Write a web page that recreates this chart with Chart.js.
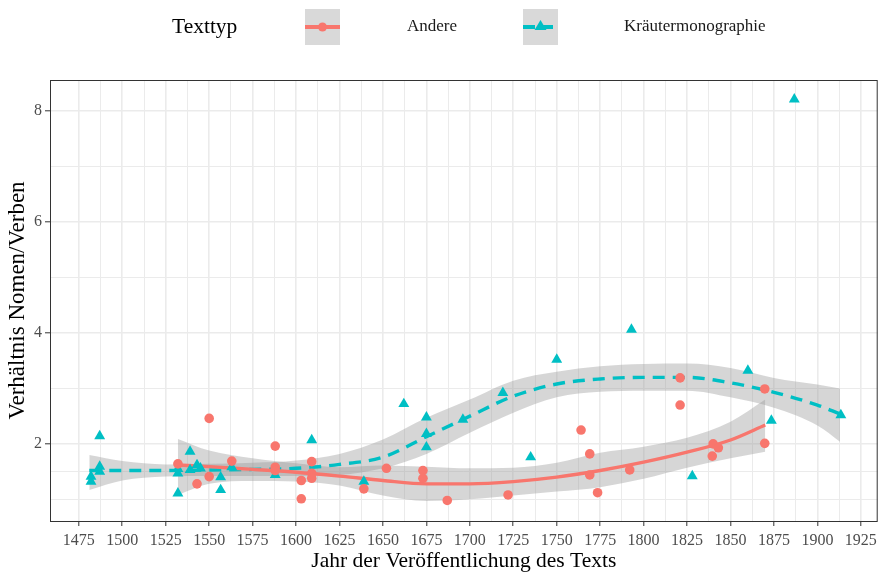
<!DOCTYPE html>
<html>
<head>
<meta charset="utf-8">
<script src="https://cdn.jsdelivr.net/npm/chart.js@4.4.1/dist/chart.umd.min.js"></script>
<style>
  html, body { margin: 0; padding: 0; background: #fff; }
  #wrap { width: 884px; height: 572px; }
</style>
</head>
<body>
<div id="wrap"><canvas id="chart" width="884" height="572"></canvas></div>
<script>
// ---------- data ----------
const seriesNames = ['Andere', 'Kräutermonographie'];

// Andere (red circles)
const andereYears = [1532, 1543, 1550, 1550, 1563, 1588, 1588, 1588, 1603, 1603, 1609, 1609, 1609,
  1639, 1652, 1673, 1673, 1687, 1722, 1764, 1769, 1769, 1773.5, 1792, 1821, 1821, 1839.5, 1840, 1843, 1869.7, 1869.7];
const andereRatio = [1.64, 1.28, 2.46, 1.41, 1.69, 1.96, 1.58, 1.52, 1.34, 1.01, 1.68, 1.47, 1.38,
  1.19, 1.56, 1.52, 1.38, 0.98, 1.08, 2.25, 1.82, 1.44, 1.12, 1.53, 3.19, 2.70, 1.78, 2.00, 1.93, 2.99, 2.01];

// Kräutermonographie (teal triangles)
const kraeuterYears = [1482, 1482, 1487, 1487, 1487, 1532, 1532, 1532, 1539, 1539, 1543, 1545, 1556.6, 1556.6,
  1563, 1588, 1609, 1639, 1662, 1675, 1675, 1675, 1696, 1719, 1735, 1750, 1793, 1828, 1860, 1873.5, 1886.7, 1913.5];
const kraeuterRatio = [1.41, 1.32, 1.59, 1.50, 2.14, 1.47, 1.11, 1.55, 1.86, 1.53, 1.62, 1.56, 1.40, 1.17,
  1.58, 1.44, 2.07, 1.32, 2.72, 2.48, 2.18, 1.94, 2.44, 2.92, 1.76, 3.52, 4.06, 1.42, 3.32, 2.42, 8.21, 2.52];

// smoothed fit + confidence band, Andere
const andereSmoothYears = [1532, 1550, 1575, 1600, 1625, 1650, 1675, 1700, 1725, 1750, 1775, 1800, 1825, 1850, 1870];
const andereFit   = [1.62, 1.59, 1.54, 1.49, 1.42, 1.34, 1.28, 1.28, 1.32, 1.40, 1.52, 1.67, 1.85, 2.07, 2.34];
const andereUpper = [2.09, 1.88, 1.74, 1.65, 1.58, 1.61, 1.59, 1.56, 1.57, 1.66, 1.84, 1.95, 2.11, 2.40, 2.80];
const andereLower = [1.08, 1.28, 1.33, 1.32, 1.25, 1.07, 0.97, 1.00, 1.07, 1.14, 1.22, 1.37, 1.57, 1.74, 1.86];

// smoothed fit + confidence band, Kräutermonographie
const kraeuterSmoothYears = [1481, 1500, 1525, 1550, 1575, 1600, 1625, 1650, 1675, 1700, 1725, 1750, 1775, 1800, 1825, 1850, 1875, 1900, 1913];
const kraeuterFit   = [1.52, 1.52, 1.52, 1.53, 1.54, 1.56, 1.63, 1.76, 2.13, 2.50, 2.86, 3.08, 3.17, 3.20, 3.20, 3.10, 2.93, 2.70, 2.54];
const kraeuterUpper = [1.80, 1.69, 1.63, 1.64, 1.66, 1.70, 1.82, 2.08, 2.47, 2.80, 3.14, 3.30, 3.40, 3.44, 3.45, 3.37, 3.19, 3.07, 3.00];
const kraeuterLower = [1.17, 1.34, 1.41, 1.42, 1.42, 1.42, 1.44, 1.56, 1.82, 2.20, 2.56, 2.84, 2.94, 2.96, 2.96, 2.84, 2.65, 2.33, 2.04];

// axis ticks
const xTicks = [1475, 1500, 1525, 1550, 1575, 1600, 1625, 1650, 1675, 1700, 1725, 1750, 1775, 1800, 1825, 1850, 1875, 1900, 1925];
const yTicks = [2, 4, 6, 8];

// ---------- styling ----------
const RED = '#F8766D';
const TEAL = '#00BFC4';
const BAND = 'rgba(153,153,153,0.4)';
const FONT = "'Liberation Serif', 'Times New Roman', serif";

const pts = (xs, ys) => xs.map((x, i) => ({ x, y: ys[i] }));

const bandSet = (xs, ys, fill) => ({
  data: pts(xs, ys),
  borderWidth: 0,
  borderColor: 'transparent',
  backgroundColor: BAND,
  pointRadius: 0,
  cubicInterpolationMode: 'monotone',
  fill,
  order: 3
});

// minor ticks sit halfway between labelled ones
const withMinor = (major) => {
  const out = [];
  major.forEach((v, i) => {
    out.push(v);
    if (i < major.length - 1) out.push((v + major[i + 1]) / 2);
  });
  return out;
};

const frameAndLegend = {
  id: 'frameAndLegend',
  afterDatasetsDraw(chart) {
    const { ctx, chartArea: a } = chart;
    ctx.save();
    ctx.strokeStyle = '#333333';
    ctx.lineWidth = 1;
    ctx.strokeRect(a.left + 0.5, a.top + 0.5, a.right - a.left - 1, a.bottom - a.top);
    ctx.restore();
  },
  afterDraw(chart) {
    const ctx = chart.ctx;
    ctx.save();
    ctx.textBaseline = 'middle';
    ctx.textAlign = 'left';
    ctx.fillStyle = '#000';
    ctx.font = `21.5px ${FONT}`;
    ctx.fillText('Texttyp', 172, 27);

    // key 1: Andere
    ctx.fillStyle = '#D9D9D9';
    ctx.fillRect(305, 9, 35, 36);
    ctx.strokeStyle = RED;
    ctx.lineWidth = 4;
    ctx.beginPath(); ctx.moveTo(305, 27); ctx.lineTo(340, 27); ctx.stroke();
    ctx.fillStyle = RED;
    ctx.beginPath(); ctx.arc(322.5, 27, 4.5, 0, Math.PI * 2); ctx.fill();

    // key 2: Kräutermonographie
    ctx.fillStyle = '#D9D9D9';
    ctx.fillRect(523, 9, 35, 36);
    ctx.strokeStyle = TEAL;
    ctx.setLineDash([12, 6]);
    ctx.beginPath(); ctx.moveTo(523, 27); ctx.lineTo(558, 27); ctx.stroke();
    ctx.setLineDash([]);
    ctx.fillStyle = TEAL;
    ctx.beginPath(); ctx.moveTo(540.5, 20); ctx.lineTo(546.5, 30); ctx.lineTo(534.5, 30); ctx.closePath(); ctx.fill();

    ctx.fillStyle = '#1a1a1a';
    ctx.font = `17px ${FONT}`;
    ctx.fillText(seriesNames[0], 407, 27);
    ctx.fillText(seriesNames[1], 624, 27);
    ctx.restore();
  }
};

new Chart(document.getElementById('chart'), {
  type: 'line',
  data: {
    datasets: [
      { label: seriesNames[0], type: 'scatter', data: pts(andereYears, andereRatio),
        backgroundColor: RED, borderColor: RED, pointStyle: 'circle', pointRadius: 4.8, borderWidth: 0, order: 0 },
      { label: seriesNames[1], type: 'scatter', data: pts(kraeuterYears, kraeuterRatio),
        backgroundColor: TEAL, borderColor: TEAL, pointStyle: 'triangle', pointRadius: 6.3, borderWidth: 0, order: 0 },
      { label: 'fit A', data: pts(andereSmoothYears, andereFit), borderColor: RED, borderWidth: 3.4,
        pointRadius: 0, cubicInterpolationMode: 'monotone', fill: false, order: 1 },
      { label: 'fit K', data: pts(kraeuterSmoothYears, kraeuterFit), borderColor: TEAL, borderWidth: 3.4,
        borderDash: [12, 8], pointRadius: 0, cubicInterpolationMode: 'monotone', fill: false, order: 1 },
      bandSet(andereSmoothYears, andereUpper, '+1'),
      bandSet(andereSmoothYears, andereLower, false),
      bandSet(kraeuterSmoothYears, kraeuterUpper, '+1'),
      bandSet(kraeuterSmoothYears, kraeuterLower, false)
    ]
  },
  options: {
    responsive: false,
    animation: false,
    devicePixelRatio: 1,
    layout: { padding: { top: 80, right: 1, left: 0, bottom: 0 } },
    plugins: { legend: { display: false }, tooltip: { enabled: false } },
    scales: {
      x: {
        type: 'linear',
        min: 1458.4,
        max: 1934.7,
        afterBuildTicks: (s) => { s.ticks = withMinor(xTicks).map(v => ({ value: v })); },
        afterFit: (s) => { s.height = 51; },
        ticks: {
          autoSkip: false,
          maxRotation: 0,
          padding: 5,
          color: '#4D4D4D',
          font: { family: FONT, size: 16 },
          callback: (v) => (xTicks.includes(v) ? String(v) : '')
        },
        grid: {
          color: '#EBEBEB',
          lineWidth: (c) => (c.tick && xTicks.includes(c.tick.value) ? 1.6 : 1),
          tickColor: (c) => (c.tick && xTicks.includes(c.tick.value) ? '#333333' : 'rgba(0,0,0,0)'),
          tickLength: 5,
          tickWidth: 1
        },
        border: { display: false },
        title: {
          display: true,
          text: 'Jahr der Veröffentlichung des Texts',
          color: '#000',
          font: { family: FONT, size: 21.5, lineHeight: 1 },
          padding: { top: 0, bottom: 0 }
        }
      },
      y: {
        type: 'linear',
        min: 0.61,
        max: 8.56,
        afterBuildTicks: (s) => { s.ticks = withMinor([1, ...yTicks]).filter(v => v >= 1).map(v => ({ value: v })); },
        afterFit: (s) => { s.width = 50; },
        ticks: {
          autoSkip: false,
          padding: 3,
          color: '#4D4D4D',
          font: { family: FONT, size: 16 },
          callback: (v) => (yTicks.includes(v) ? String(v) : '')
        },
        grid: {
          color: '#EBEBEB',
          lineWidth: (c) => (c.tick && yTicks.includes(c.tick.value) ? 1.6 : 1),
          tickColor: (c) => (c.tick && yTicks.includes(c.tick.value) ? '#333333' : 'rgba(0,0,0,0)'),
          tickLength: 5,
          tickWidth: 1
        },
        border: { display: false },
        title: {
          display: true,
          text: 'Verhältnis Nomen/Verben',
          color: '#000',
          font: { family: FONT, size: 23, lineHeight: 1 },
          padding: { top: 6, bottom: 0 }
        }
      }
    }
  },
  plugins: [frameAndLegend]
});
</script>
</body>
</html>
